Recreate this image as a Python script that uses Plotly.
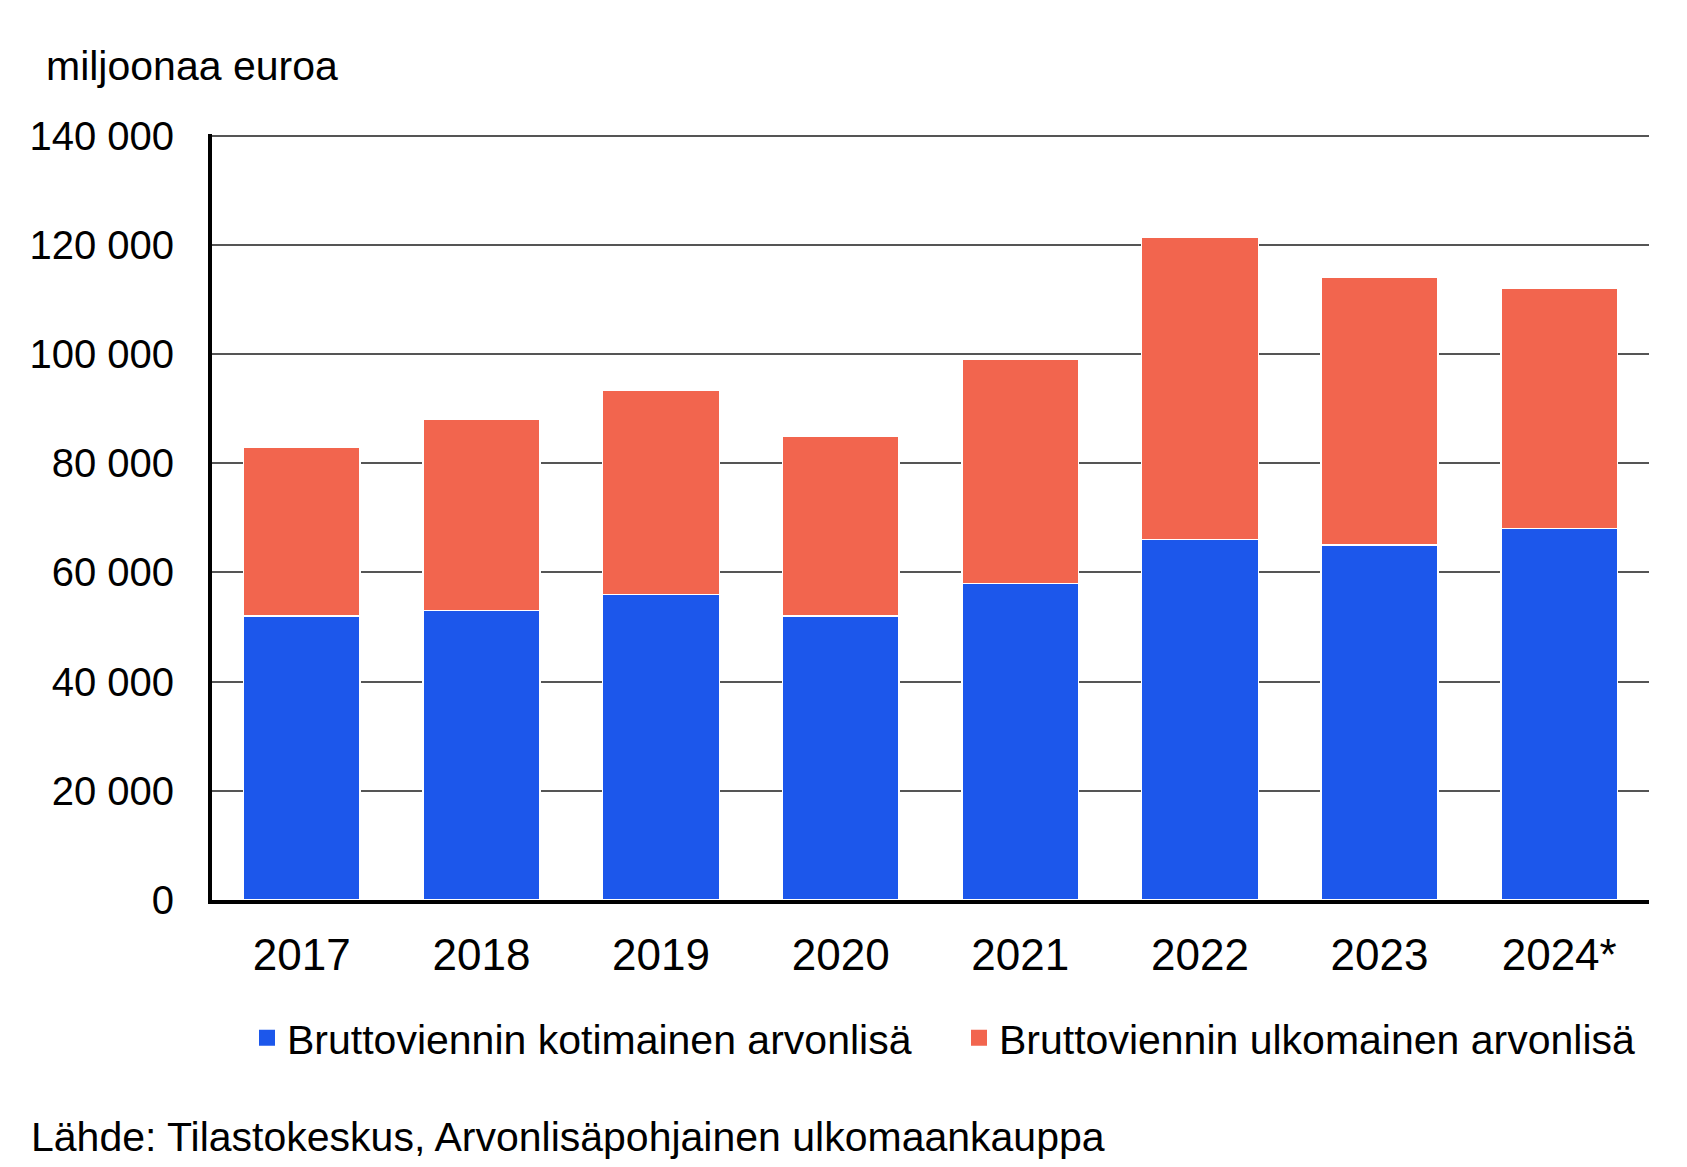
import plotly.graph_objects as go

years = ["2017", "2018", "2019", "2020", "2021", "2022", "2023", "2024*"]
domestic = [52000, 53000, 56000, 52000, 58000, 66000, 65000, 68000]
foreign = [31000, 35000, 37300, 33000, 41000, 55300, 49000, 44000]
series_names = ["Bruttoviennin kotimainen arvonlisä", "Bruttoviennin ulkomainen arvonlisä"]
y_tickvals = [0, 20000, 40000, 60000, 80000, 100000, 120000, 140000]
y_ticktext = ["0", "20 000", "40 000", "60 000", "80 000", "100 000", "120 000", "140 000"]
unit_label = "miljoonaa euroa"
source_text = "Lähde: Tilastokeskus, Arvonlisäpohjainen ulkomaankauppa"

FONT = "Liberation Sans, Arial, sans-serif"
BLUE = "#1C57EB"
ORANGE = "#F2654E"
COLORS = [BLUE, ORANGE]

W, H = 1687, 1167
L, R, T, B = 212, 38, 134, 267
pw, ph = W - L - R, H - T - B

fig = go.Figure()
for vals, name, col in zip([domestic, foreign], series_names, COLORS):
    fig.add_trace(go.Bar(x=years, y=vals, name=name, showlegend=False,
                         marker=dict(color=col, line=dict(color="white", width=1.5))))
# legend entries (square swatches)
for name, col in zip(series_names, COLORS):
    fig.add_trace(go.Scatter(x=[years[0]], y=[None], name=name, mode="markers",
                             marker=dict(symbol="square", size=16, color=col),
                             showlegend=True, hoverinfo="skip"))

fig.update_layout(
    width=W, height=H,
    margin=dict(l=L, r=R, t=T, b=B, autoexpand=False),
    barmode="stack", bargap=0.35,
    plot_bgcolor="white", paper_bgcolor="white",
    font=dict(family=FONT, color="black", size=40),
    showlegend=True,
    legend=dict(orientation="h", xref="container", yref="container",
                x=247 / W, xanchor="left", y=1 - 1038 / H, yanchor="middle",
                font=dict(size=41, family=FONT), entrywidth=667, entrywidthmode="pixels",
                bgcolor="rgba(0,0,0,0)", traceorder="normal", itemsizing="trace"),
    xaxis=dict(showgrid=False, showline=True, linecolor="black", linewidth=4,
               ticks="", tickfont=dict(size=44, family=FONT), ticklabelstandoff=13,
               zeroline=False),
    yaxis=dict(range=[0, 140300], tickvals=y_tickvals, ticktext=y_ticktext,
               showgrid=True, gridcolor="#555555", gridwidth=2,
               showline=True, linecolor="black", linewidth=4,
               ticks="", tickfont=dict(size=40, family=FONT), ticklabelstandoff=26,
               zeroline=False),
    annotations=[
        dict(text=unit_label, xref="paper", yref="paper",
             x=(44 - L) / pw, y=(H - B - 66) / ph, xanchor="left", yanchor="middle",
             showarrow=False, font=dict(size=41, family=FONT, color="black")),
        dict(text=source_text, xref="paper", yref="paper",
             x=(29 - L) / pw, y=(H - B - 1137) / ph, xanchor="left", yanchor="middle",
             showarrow=False, font=dict(size=41, family=FONT, color="black")),
    ],
)

fig.write_html("out.html")
